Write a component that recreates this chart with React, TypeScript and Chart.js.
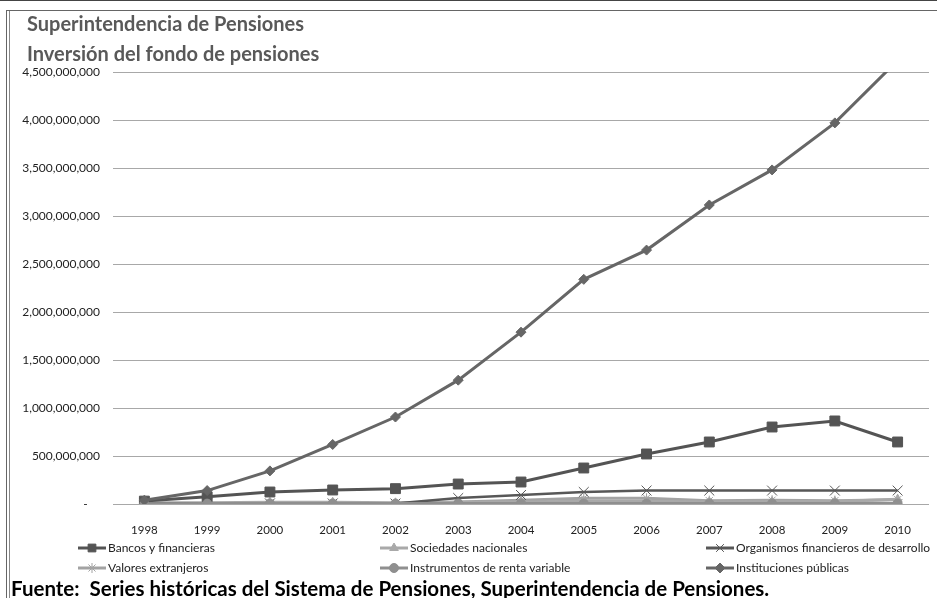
import React, { useEffect, useRef } from "react";
import { Chart, registerables } from "chart.js";
import { drawPoint } from "chart.js/helpers";

Chart.register(...registerables);

const years = ["1998", "1999", "2000", "2001", "2002", "2003", "2004", "2005", "2006", "2007", "2008", "2009", "2010"];
const bancos = [30e6, 75e6, 125e6, 146e6, 160e6, 208e6, 229e6, 375e6, 521e6, 646e6, 802e6, 865e6, 646e6];
const sociedades = [12e6, 14e6, 18e6, 18e6, 12e6, 18e6, 22e6, 28e6, 28e6, 22e6, 25e6, 25e6, 50e6];
const organismos = [6e6, 6e6, 6e6, 6e6, 5e6, 62e6, 94e6, 125e6, 140e6, 140e6, 140e6, 140e6, 140e6];
const valores = [2e6, 2e6, 2e6, 2e6, 2e6, 20e6, 40e6, 60e6, 60e6, 35e6, 40e6, 35e6, 45e6];
const instrumentos = [3e6, 4e6, 5e6, 5e6, 4e6, 5e6, 6e6, 6e6, 6e6, 6e6, 6e6, 6e6, 6e6];
const instituciones = [40e6, 140e6, 345e6, 620e6, 906e6, 1290e6, 1790e6, 2340e6, 2645e6, 3115e6, 3480e6, 3970e6, 4620e6];

const seriesNames = [
  "Bancos y financieras",
  "Sociedades nacionales",
  "Organismos financieros de desarrollo",
  "Valores extranjeros",
  "Instrumentos de renta variable",
  "Instituciones públicas",
];

const legendCols = [78, 380, 706];
const legendRows = [548, 568];

const legendPlugin = {
  id: "customLegend",
  afterDraw(chart: any) {
    const ctx = chart.ctx;
    ctx.save();
    chart.data.datasets.forEach((ds: any, i: number) => {
      const col = i % 3;
      const row = Math.floor(i / 3);
      const x0 = legendCols[col];
      const y = legendRows[row];
      ctx.strokeStyle = ds.borderColor;
      ctx.lineWidth = 3;
      ctx.beginPath();
      ctx.moveTo(x0, y);
      ctx.lineTo(x0 + 28, y);
      ctx.stroke();
      ctx.fillStyle = ds.pointBackgroundColor || ds.borderColor;
      ctx.strokeStyle = ds.borderColor;
      ctx.lineWidth = 1;
      drawPoint(ctx, { pointStyle: ds.pointStyle, rotation: 0, borderWidth: 1, radius: Math.min(ds.pointRadius, 5.5) }, x0 + 14, y);
      ctx.fillStyle = "#222";
      ctx.font = "12px Lato";
      ctx.textAlign = "left";
      ctx.textBaseline = "middle";
      ctx.fillText(ds.label, x0 + 30, y);
    });
    ctx.restore();
  },
};

export default function App() {
  const ref = useRef<HTMLCanvasElement>(null);
  useEffect(() => {
    const mk = (label: string, data: number[], color: string, style: string, radius: number, width: number, order: number) => ({
      label,
      data,
      borderColor: color,
      backgroundColor: color,
      pointBackgroundColor: color,
      pointBorderColor: color,
      pointStyle: style,
      pointRadius: radius,
      pointBorderWidth: 1,
      borderWidth: width,
      tension: 0,
      order,
    });
    const chart = new Chart(ref.current!, {
      type: "line",
      data: {
        labels: years,
        datasets: [
          mk(seriesNames[0], bancos, "#545454", "rect", 7, 3, 3),
          mk(seriesNames[1], sociedades, "#a9a9a9", "triangle", 5, 3, 5),
          mk(seriesNames[2], organismos, "#575757", "crossRot", 7, 2.5, 4),
          mk(seriesNames[3], valores, "#a3a3a3", "star", 5, 3, 6),
          mk(seriesNames[4], instrumentos, "#8f8f8f", "circle", 4.5, 3, 2),
          mk(seriesNames[5], instituciones, "#666666", "rectRot", 5, 3, 1),
        ] as any,
      },
      options: {
        animation: false,
        responsive: false,
        maintainAspectRatio: false,
        layout: { padding: { left: 0, right: 4, top: 72, bottom: 0 } },
        plugins: {
          legend: { display: false },
          title: { display: false },
          tooltip: { enabled: false },
        },
        scales: {
          x: {
            offset: true,
            grid: { display: false },
            border: { display: false },
            ticks: { color: "#222", font: { family: "Lato", size: 11.5 }, padding: 11, maxRotation: 0 },
            afterFit: (s: any) => { s.height = 94; },
          },
          y: {
            min: 0,
            max: 4500000000,
            grid: { color: "#a8a8a8", lineWidth: 1, drawTicks: false },
            border: { display: false },
            ticks: {
              stepSize: 500000000,
              color: "#222",
              padding: 13,
              font: { family: "Lato", size: 12 },
              callback: (v: any) => (Number(v) === 0 ? "-    " : Number(v).toLocaleString("en-US")),
            },
            afterFit: (s: any) => { s.width = 113; },
          },
        },
      },
      plugins: [legendPlugin],
    });
    return () => chart.destroy();
  }, []);

  return (
    <div style={{ position: "absolute", left: 0, top: 0, width: 937, height: 598, background: "#fff", overflow: "hidden" }}>
      <div style={{ position: "absolute", left: 0, top: 0, width: 937, height: 1, background: "#444" }} />
      <div style={{ position: "absolute", left: 6, top: 10, width: 931, height: 588, borderLeft: "1px solid #666", borderTop: "1px solid #666" }} />
      <div style={{ position: "absolute", left: 9, top: 11, width: 1, height: 587, background: "#888" }} />
      <canvas ref={ref} width={937} height={598} style={{ position: "absolute", left: 0, top: 0 }} />
      <div style={{ position: "absolute", left: 27, top: 8, fontFamily: "Lato", fontWeight: "bold", fontSize: 20, color: "#595959", lineHeight: "30px", whiteSpace: "nowrap" }}>
        <div>Superintendencia de Pensiones</div>
        <div>Inversión del fondo de pensiones</div>
      </div>
      <div style={{ position: "absolute", left: 11, top: 576, fontFamily: "Lato", fontWeight: "bold", fontSize: 20.5, color: "#000", lineHeight: "24px", whiteSpace: "nowrap" }}>
        Fuente:&nbsp; Series históricas del Sistema de Pensiones, Superintendencia de Pensiones.
      </div>
    </div>
  );
}
